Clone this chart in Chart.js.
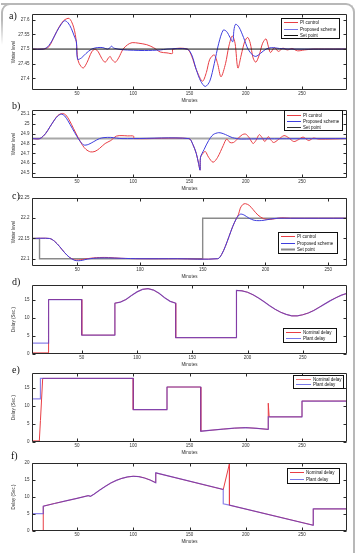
<!DOCTYPE html>
<html>
<head>
<meta charset="utf-8">
<script src="https://cdn.jsdelivr.net/npm/chart.js@4.4.0/dist/chart.umd.min.js"></script>
<style>
  body { margin: 0; background: #fff; }
  #page { position: relative; width: 358px; height: 553px; overflow: hidden; background: #fff; }
  .frame { position: absolute; left: 1px; top: 3px; width: 352px; height: 600px; border-top: 2px solid #b8b8b8; border-right: 2px solid #b8b8b8; border-top-right-radius: 9px; }
  .corner { position: absolute; left: 1px; top: 3px; width: 12px; height: 40px; border-top: 2px solid #b8b8b8; border-left: 2px solid #b8b8b8; border-top-left-radius: 9px;
            -webkit-mask-image: linear-gradient(#000 40%, transparent); mask-image: linear-gradient(#000 40%, transparent); }
  .tag { position: absolute; font-family: "Liberation Serif", serif; font-size: 10px; line-height: 10px; color: #111; will-change: transform; }
  canvas { position: absolute; left: 0; }
</style>
</head>
<body>
<div id="page">
  <div class="frame"></div>
  <div class="corner"></div>
  <div class="tag" style="left:9px;top:11px">a)</div>
  <div class="tag" style="left:12px;top:101px">b)</div>
  <div class="tag" style="left:12px;top:191px">c)</div>
  <div class="tag" style="left:12px;top:277px">d)</div>
  <div class="tag" style="left:12px;top:365px">e)</div>
  <div class="tag" style="left:11px;top:451px">f)</div>
  <canvas id="chartA"></canvas>
  <canvas id="chartB"></canvas>
  <canvas id="chartC"></canvas>
  <canvas id="chartD"></canvas>
  <canvas id="chartE"></canvas>
  <canvas id="chartF"></canvas>
</div>
<script>
// ---- data ----
var xTicks = [50, 100, 150, 200, 250];

// a) water level
var aMinPI = [10,20,25,30,34,38,41,43,45,47,48.5,49.5,50.5,52,55.5,59,63,66,69,72,75,78,79.5,81,84,87,91,95,99,105,112,118,124,130,134.8,135.2,148,152,156,161.5,165,168,172,175,178,182,185,188,190.5,193,196,199,201.7,204,206.5,209,212,215,218,220,222,225.5,229,233,237,241,246,252,260,270,290];
var aPI = [27.5,27.5,27.508,27.545,27.575,27.597,27.604,27.605,27.595,27.575,27.55,27.52,27.47,27.45,27.435,27.455,27.49,27.5,27.49,27.468,27.455,27.47,27.475,27.465,27.455,27.47,27.5,27.515,27.522,27.52,27.515,27.505,27.49,27.487,27.485,27.5,27.5,27.475,27.43,27.39,27.42,27.465,27.48,27.45,27.405,27.45,27.51,27.545,27.52,27.435,27.48,27.525,27.54,27.52,27.47,27.455,27.48,27.52,27.535,27.51,27.488,27.505,27.492,27.503,27.497,27.502,27.494,27.497,27.5,27.5,27.5];
var aMinProp = [10,20,24,28,32,36,39,42,45,48,49.5,50.5,54,58,63,68,73,77,79.5,80.5,83,90,100,110,124,130,148,152,156,160,164,168,172,176,180,183,186,188.5,189.5,191,194,198,202,206,209,213,218,223,230,240,290];
var aProp = [27.5,27.5,27.508,27.53,27.56,27.585,27.597,27.59,27.57,27.54,27.525,27.465,27.47,27.485,27.5,27.505,27.505,27.5,27.505,27.51,27.503,27.498,27.496,27.495,27.497,27.5,27.5,27.48,27.43,27.39,27.372,27.39,27.45,27.52,27.565,27.56,27.54,27.525,27.565,27.585,27.575,27.54,27.5,27.48,27.475,27.485,27.5,27.505,27.502,27.5,27.5];
var aSetMin = [10, 290];
var aSet = [27.5, 27.5];
var aYTicks = [27.4, 27.45, 27.5, 27.55, 27.6];

// b) water level
var bMinPI = [10,17,22,26,30,33,37,40,43,47,51,55,58,62,66,70,75,80,85,90,95,100.3,100.7,149.5,153,156,158,159.4,159.8,162,164,167,171,175,180,183,186,189,193,197,200,203,206.5,209,212,214.5,217,220,222,224.8,229,234,238,242.7,247,251,256,260,265,290];
var bPI = [24.85,24.85,24.9,24.97,25.04,25.085,25.105,25.09,25.04,24.95,24.86,24.78,24.74,24.715,24.72,24.75,24.8,24.83,24.875,24.88,24.877,24.875,24.85,24.85,24.79,24.7,24.6,24.53,24.66,24.7,24.72,24.66,24.61,24.66,24.78,24.845,24.81,24.81,24.85,24.89,24.895,24.86,24.8,24.83,24.89,24.86,24.82,24.87,24.84,24.81,24.84,24.88,24.86,24.82,24.84,24.865,24.83,24.855,24.845,24.85];
var bMinProp = [10,17,22,26,30,33,36,39,42,46,50,53,56,60,65,70,74,80,85,90,100,149.5,153,156,158,159.4,159.8,163,167,171,176,180,184,188,192,196,205,290];
var bProp = [24.85,24.85,24.9,24.97,25.04,25.08,25.098,25.08,25.03,24.95,24.87,24.82,24.785,24.79,24.82,24.85,24.86,24.862,24.855,24.85,24.85,24.85,24.79,24.7,24.6,24.53,24.66,24.74,24.83,24.89,24.91,24.9,24.88,24.86,24.85,24.845,24.847,24.85];
var bSetMin = [10, 290];
var bSet = [24.85, 24.85];
var bYTicks = [24.5, 24.6, 24.7, 24.8, 24.9, 25, 25.1];

// c) water level
var cMinPI = [14,28,32,36,40,44,48,51,54,58,63,68,75,85,100,130,162,165,168,171,174,177,178.6,180,182,184,187,190,194,198.5,203,208,213,220,265];
var cPI = [22.15,22.15,22.143,22.13,22.115,22.103,22.097,22.097,22.098,22.1,22.102,22.103,22.103,22.101,22.1,22.1,22.1,22.11,22.13,22.155,22.18,22.2,22.21,22.225,22.234,22.236,22.232,22.222,22.208,22.199,22.197,22.199,22.201,22.2,22.2];
var cMinProp = [14,28,32,36,40,44,48,51,54,58,63,68,75,85,100,130,162,165,168,171,174,177,180,183,187,191,195,199,204,210,220,265];
var cProp = [22.15,22.15,22.143,22.13,22.115,22.103,22.096,22.095,22.096,22.099,22.101,22.102,22.102,22.101,22.1,22.1,22.1,22.11,22.13,22.155,22.18,22.2,22.21,22.208,22.2,22.195,22.194,22.195,22.198,22.2,22.2,22.2];
var cSetMin = [14, 20, 20, 150, 150, 265];
var cSet = [22.15, 22.15, 22.1, 22.1, 22.2, 22.2];
var cYTicks = [22.1, 22.15, 22.2, 22.25];

// d) delay
var dMin = [5,20,20,50,50,80,80,85,90,95,100,105,110,115,120,125,130,135,135,190,190,195,200,205,210,215,220,225,230,235,240,245,250,255,260,265,270,275,280,285,290];
var dNominal = [0.3,0.3,15,15,5.2,5.2,14,14.3,15,16.1,17.1,17.8,18,17.6,16.7,15.5,14.5,14,4.5,4.5,17.5,17.4,17.0,16.3,15.4,14.4,13.3,12.3,11.5,10.9,10.5,10.5,10.8,11.3,12.0,12.9,13.8,14.7,15.5,16.2,16.7];
var dPlant = [3,3,15,15,5.2,5.2,14,14.3,15,16.1,17.1,17.8,18,17.6,16.7,15.5,14.5,14,4.5,4.5,17.5,17.4,17.0,16.3,15.4,14.4,13.3,12.3,11.5,10.9,10.5,10.5,10.8,11.3,12.0,12.9,13.8,14.7,15.5,16.2,16.7];
var dYTicks = [0, 5, 10, 15];

// e) delay
var eMin = [10,16.5,17.5,17.5,19.5,100,100,130,130,160,160,170,180,190,200,210,220,220,220.8,250,250,290];
var eNominal = [0.3,0.3,6,6,17.7,17.7,9,9,15.3,15.3,3,3.3,3.6,3.85,4,3.8,3.5,10.8,7,7,11.4,11.4];
var ePlant = [12,12,12,17.7,17.7,17.7,9,9,15.3,15.3,3,3.3,3.6,3.85,4,3.8,3.5,7,7,7,11.4,11.4];
var eYTicks = [0, 5, 10, 15];

// f) delay
var fMin = [10,20,20,30,40,50,60,62,65,70,75,80,85,90,95,100,105,110,115,120,120,180,180,185.5,185.5,260,260,290];
var fNominal = [0.1,0.1,7.3,8.1,8.85,9.6,10.4,10.2,10.8,12.0,13.1,14.1,14.9,15.5,15.9,16.1,16.0,15.6,15.0,14.2,17.1,12.2,12.2,19.8,7.6,1.7,6.5,6.5];
var fPlant = [5.1,5.1,7.3,8.1,8.85,9.6,10.4,10.2,10.8,12.0,13.1,14.1,14.9,15.5,15.9,16.1,16.0,15.6,15.0,14.2,17.1,12.2,8.0,7.6,7.6,1.7,6.5,6.5];
var fYTicks = [0, 5, 10, 15, 20];

// ---- helpers ----
var PAD_TOP = 6, AXIS_H = 14, Y_W = 32, PAD_RIGHT = 11;
var FONT = '"Liberation Sans", Arial, sans-serif';
var RED = 'rgb(232,62,68)', BLUE = 'rgb(62,62,222)';
var BLUE_T = 'rgba(70,55,220,0.62)', BLUE_L = 'rgb(120,120,232)';

function pts(xs, ys) {
  var out = [];
  for (var i = 0; i < xs.length; i++) out.push({ x: xs[i], y: ys[i] });
  return out;
}

// box round the axes, inward ticks on four sides, boxed legend
var matlabAxes = {
  id: 'matlabAxes',
  afterDatasetsDraw: function (chart, args, opts) {
    var ctx = chart.ctx, a = chart.chartArea, sx = chart.scales.x, sy = chart.scales.y;
    var L = Math.round(a.left) + 0.5, R = Math.round(a.right) - 0.5;
    var T = Math.round(a.top) + 0.5, B = Math.round(a.bottom) - 0.5;
    ctx.save();
    ctx.strokeStyle = '#2a2a2a';
    ctx.lineWidth = 1;
    ctx.beginPath();
    ctx.rect(L, T, R - L, B - T);
    sx.ticks.forEach(function (t) {
      var p = Math.round(sx.getPixelForValue(t.value)) + 0.5;
      ctx.moveTo(p, T); ctx.lineTo(p, T + 3);
      ctx.moveTo(p, B); ctx.lineTo(p, B - 3);
    });
    sy.ticks.forEach(function (t) {
      var p = Math.round(sy.getPixelForValue(t.value)) + 0.5;
      ctx.moveTo(L, p); ctx.lineTo(L + 3, p);
      ctx.moveTo(R, p); ctx.lineTo(R - 3, p);
    });
    ctx.stroke();

    var lg = opts.box;
    if (lg) {
      var y0 = lg.y - opts.top;
      ctx.fillStyle = '#fff';
      ctx.fillRect(lg.x, y0, lg.w, lg.h);
      ctx.strokeStyle = '#111';
      ctx.strokeRect(Math.round(lg.x) + 0.5, Math.round(y0) + 0.5, Math.round(lg.w) - 1, Math.round(lg.h) - 1);
      ctx.font = '4.5px ' + FONT;
      ctx.textBaseline = 'middle';
      chart.data.datasets.forEach(function (ds, i) {
        var yy = Math.round(y0 + lg.first + i * lg.gap) + 0.5;
        ctx.strokeStyle = ds.legendColor || ds.borderColor;
        ctx.lineWidth = ds.legendWidth || 1;
        ctx.beginPath();
        ctx.moveTo(lg.x + 3, yy);
        ctx.lineTo(lg.x + 3 + lg.line, yy);
        ctx.stroke();
        ctx.fillStyle = '#111';
        ctx.fillText(ds.label, lg.x + 5 + lg.line, yy);
      });
    }
    ctx.restore();
  }
};

function drawPanel(id, top, bottom, xMin, xMax, yMin, yMax, yTicks, yTitle, datasets, box) {
  var canvas = document.getElementById(id);
  var h = bottom - top + PAD_TOP + AXIS_H;
  canvas.width = 358;
  canvas.height = h;
  canvas.style.width = '358px';
  canvas.style.height = h + 'px';
  canvas.style.top = (top - PAD_TOP) + 'px';

  var tickFont = { size: 4.5, family: FONT };
  new Chart(canvas, {
    type: 'line',
    data: { datasets: datasets },
    plugins: [matlabAxes],
    options: {
      responsive: false,
      animation: false,
      devicePixelRatio: 1,
      events: [],
      layout: { padding: { top: PAD_TOP, right: PAD_RIGHT, bottom: 0, left: 0 } },
      elements: { point: { radius: 0 } },
      plugins: {
        legend: { display: false },
        tooltip: { enabled: false },
        matlabAxes: { box: box, top: top - PAD_TOP }
      },
      scales: {
        x: {
          type: 'linear', min: xMin, max: xMax,
          afterBuildTicks: function (s) { s.ticks = xTicks.map(function (v) { return { value: v }; }); },
          afterFit: function (s) { s.height = AXIS_H; },
          grid: { display: false, drawTicks: false },
          border: { display: false },
          ticks: { font: tickFont, color: '#333', padding: 1, maxRotation: 0, autoSkip: false,
                   callback: function (v) { return String(v); } },
          title: { display: true, text: 'Minutes', font: tickFont, color: '#333', padding: { top: 0, bottom: 1 } }
        },
        y: {
          type: 'linear', min: yMin, max: yMax,
          afterBuildTicks: function (s) { s.ticks = yTicks.map(function (v) { return { value: v }; }); },
          afterFit: function (s) { s.width = Y_W; },
          grid: { display: false, drawTicks: false },
          border: { display: false },
          ticks: { font: tickFont, color: '#333', padding: 2.5, autoSkip: false,
                   callback: function (v) { return String(v); } },
          title: { display: true, text: yTitle, font: tickFont, color: '#333', padding: { top: 11.5, bottom: 0 } }
        }
      }
    }
  });
}

function line(label, xs, ys, color, width, order, tension, extra) {
  var ds = { label: label, data: pts(xs, ys), borderColor: color, borderWidth: width,
             order: order, tension: tension, fill: false };
  if (extra) for (var k in extra) ds[k] = extra[k];
  return ds;
}

drawPanel('chartA', 14, 90, 10, 290, 27.36, 27.62, aYTicks, 'Water level', [
  line('PI control', aMinPI, aPI, RED, 1, 2, 0.3),
  line('Proposed scheme', aMinProp, aProp, BLUE, 1, 1, 0.3, { legendColor: 'rgb(120,120,230)' }),
  line('Set point', aSetMin, aSet, '#111', 1, 0, 0)
], { x: 281, y: 18, w: 59, h: 21, first: 4.3, gap: 6.2, line: 14 });

drawPanel('chartB', 110, 178, 10, 290, 24.45, 25.14, bYTicks, 'Water level', [
  line('PI control', bMinPI, bPI, RED, 1, 1, 0.3),
  line('Proposed scheme', bMinProp, bProp, BLUE, 1, 0, 0.3),
  line('Set point', bSetMin, bSet, '#a8a8a8', 2, 3, 0, { legendColor: '#333', legendWidth: 1 })
], { x: 284, y: 110, w: 59, h: 21, first: 4.5, gap: 6.4, line: 14 });

drawPanel('chartC', 198, 266, 14, 265, 22.082, 22.25, cYTicks, 'Water level', [
  line('PI control', cMinPI, cPI, RED, 1, 1, 0.3),
  line('Proposed scheme', cMinProp, cProp, BLUE, 1, 0, 0.3),
  line('Set point', cSetMin, cSet, '#8a8a8a', 1.4, 3, 0, { legendWidth: 2 })
], { x: 278, y: 232, w: 60, h: 21.5, first: 4.3, gap: 6.5, line: 14 });

drawPanel('chartD', 285, 354, 5, 290, 0, 19, dYTicks, 'Delay (Sec.)', [
  line('Nominal delay', dMin, dNominal, RED, 1, 1, 0),
  line('Plant delay', dMin, dPlant, BLUE_T, 1.2, 0, 0, { legendColor: BLUE_L })
], { x: 283, y: 328, w: 54, h: 15, first: 4, gap: 6, line: 15 });

drawPanel('chartE', 373, 442, 10, 290, 0, 19.2, eYTicks, 'Delay (Sec.)', [
  line('Nominal delay', eMin, eNominal, RED, 1, 1, 0, { legendColor: 'rgb(240,110,110)' }),
  line('Plant delay', eMin, ePlant, BLUE_T, 1.2, 0, 0, { legendColor: BLUE_L })
], { x: 293, y: 375, w: 51, h: 13.5, first: 3.8, gap: 5.4, line: 15 });

drawPanel('chartF', 463, 531, 10, 290, 0, 20, fYTicks, 'Delay (Sec.)', [
  line('Nominal delay', fMin, fNominal, RED, 1, 1, 0),
  line('Plant delay', fMin, fPlant, BLUE_T, 1.2, 0, 0, { legendColor: BLUE_L })
], { x: 287, y: 468, w: 53, h: 15.5, first: 4, gap: 6.5, line: 14 });
</script>
</body>
</html>
